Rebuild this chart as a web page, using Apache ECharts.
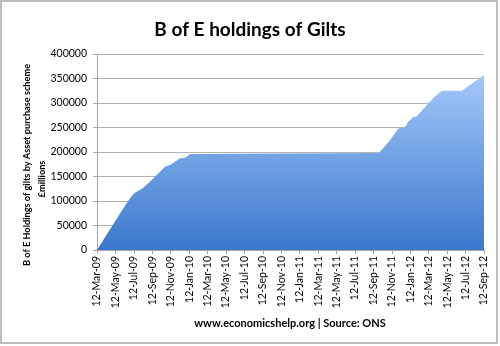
<!DOCTYPE html>
<html>
<head>
<meta charset="utf-8">
<title>B of E holdings of Gilts</title>
<script src="https://cdn.jsdelivr.net/npm/echarts@6/dist/echarts.min.js"></script>
<style>
  html, body { margin: 0; padding: 0; background: #fff; }
  #chart { width: 500px; height: 346px; }
</style>
</head>
<body>
<div id="chart"></div>
<script>
// Months elapsed since 12-Mar-09 for each observation
var monthsSinceStart = [0, 1.95, 2.86, 3.58, 4.1, 4.6, 4.96, 5.57, 6.48, 7.38, 7.93, 8.47, 9.0, 9.55, 10.1, 10.3,
  30.6, 31.8, 32.7, 33.4, 33.8, 34.3, 34.7, 35.6, 36.5, 37.4, 39.6, 40.7, 42];
// Gilt holdings, £ millions
var holdings = [0, 58000, 85000, 105500, 117000, 122000, 126000, 136000, 153000, 170000, 173500, 180000, 187000, 188000, 196000, 198000,
  198000, 224000, 248000, 250000, 262000, 271000, 273000, 292000, 310000, 325000, 325000, 340000, 357000];
// Date labels, one every two months
var dateLabels = ['12-Mar-09', '12-May-09', '12-Jul-09', '12-Sep-09', '12-Nov-09', '12-Jan-10', '12-Mar-10', '12-May-10',
  '12-Jul-10', '12-Sep-10', '12-Nov-10', '12-Jan-11', '12-Mar-11', '12-May-11', '12-Jul-11', '12-Sep-11',
  '12-Nov-11', '12-Jan-12', '12-Mar-12', '12-May-12', '12-Jul-12', '12-Sep-12'];

var points = monthsSinceStart.map(function (m, i) { return [m, holdings[i]]; });

var FONT = 'Lato';
var chart = echarts.init(document.getElementById('chart'));
chart.setOption({
  animation: false,
  backgroundColor: '#fff',
  title: {
    text: 'B of E holdings of Gilts',
    left: 'center',
    top: 15,
    textStyle: { fontFamily: FONT, fontWeight: 'bold', fontSize: 19, color: '#000' }
  },
  grid: { left: 97, right: 16, top: 54, bottom: 96 },
  xAxis: {
    type: 'value',
    min: 0,
    max: 42,
    interval: 2,
    axisLine: { show: true, lineStyle: { color: '#a6a6a6' } },
    axisTick: { show: true, length: 4, lineStyle: { color: '#a6a6a6' } },
    splitLine: { show: false },
    axisLabel: {
      rotate: 90,
      margin: 6,
      fontFamily: FONT,
      fontSize: 10.5,
      color: '#000',
      formatter: function (v) { return dateLabels[Math.round(v / 2)] || ''; }
    }
  },
  yAxis: {
    type: 'value',
    min: 0,
    max: 400000,
    interval: 50000,
    axisLine: { show: true, lineStyle: { color: '#a6a6a6' } },
    axisTick: { show: true, length: 4, lineStyle: { color: '#a6a6a6' } },
    splitLine: { show: true, lineStyle: { color: '#b3b3b3', width: 1 } },
    axisLabel: {
      fontFamily: FONT, fontSize: 10.5, color: '#000', margin: 10,
      formatter: function (v) { return String(v); }
    }
  },
  series: [{
    type: 'line',
    data: points,
    showSymbol: false,
    lineStyle: { width: 0 },
    areaStyle: {
      opacity: 1,
      color: new echarts.graphic.LinearGradient(0, 0, 0, 1, [
        { offset: 0, color: '#a3c8f9' },
        { offset: 1, color: '#3b78cc' }
      ])
    }
  }],
  graphic: [
    {
      type: 'rect',
      shape: { x: 1, y: 1, width: 496, height: 342 },
      style: { fill: 'none', stroke: '#bdbdbd', lineWidth: 2 },
      silent: true
    },
    {
      type: 'text',
      x: 27, y: 165,
      rotation: Math.PI / 2,
      style: {
        text: 'B of E Holdings of gilts by Asset purchase scheme',
        fontFamily: FONT, fontWeight: 'bold', fontSize: 9.2, fill: '#000',
        textAlign: 'center', textVerticalAlign: 'middle'
      }
    },
    {
      type: 'text',
      x: 42, y: 179,
      rotation: Math.PI / 2,
      style: {
        text: '£millions',
        fontFamily: FONT, fontWeight: 'bold', fontSize: 9.2, fill: '#000',
        textAlign: 'center', textVerticalAlign: 'middle'
      }
    },
    {
      type: 'text',
      x: 290, y: 323,
      style: {
        text: 'www.economicshelp.org | Source: ONS',
        fontFamily: FONT, fontWeight: 'bold', fontSize: 11, fill: '#000',
        textAlign: 'center', textVerticalAlign: 'middle'
      }
    }
  ]
});
</script>
</body>
</html>
